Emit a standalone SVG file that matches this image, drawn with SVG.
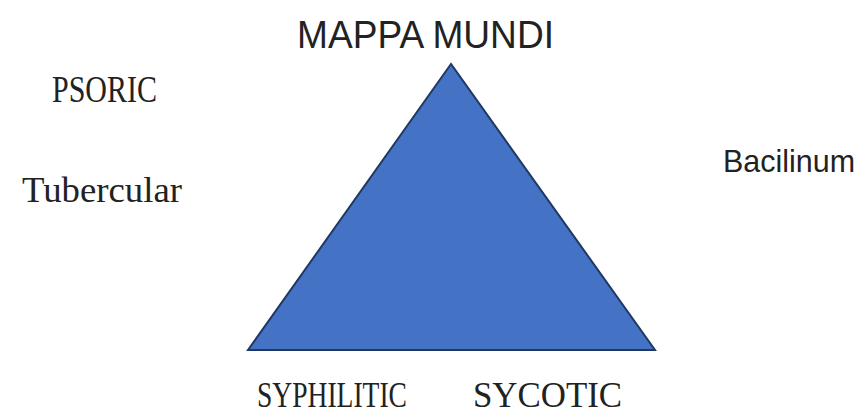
<svg xmlns="http://www.w3.org/2000/svg" width="861" height="415" viewBox="0 0 861 415">
<style>
.sans{font-family:"Liberation Sans",Arial,sans-serif;fill:#222;}
.serif{font-family:"Liberation Serif","Times New Roman",serif;fill:#222;}
</style>
<rect width="861" height="415" fill="#fff"/>
<g id="triangle">
<polygon points="451,64 248,350 655,350" fill="#4472C4" stroke="#203864" stroke-width="2" stroke-linejoin="miter"/>
</g>
<g id="title"><text class="sans" x="297" y="48" font-size="39" textLength="257" lengthAdjust="spacingAndGlyphs">MAPPA MUNDI</text></g>
<g id="psoric"><text class="serif" x="52" y="102" font-size="38" textLength="105" lengthAdjust="spacingAndGlyphs">PSORIC</text></g>
<g id="tubercular"><text class="serif" x="22" y="202" font-size="36" textLength="160" lengthAdjust="spacingAndGlyphs">Tubercular</text></g>
<g id="bacilinum"><text class="sans" x="723" y="172" font-size="32" textLength="132" lengthAdjust="spacingAndGlyphs">Bacilinum</text></g>
<g id="syphilitic"><text class="serif" x="257" y="407" font-size="36" textLength="150" lengthAdjust="spacingAndGlyphs">SYPHILITIC</text></g>
<g id="sycotic"><text class="serif" x="473" y="407" font-size="36" textLength="149" lengthAdjust="spacingAndGlyphs">SYCOTIC</text></g>
<g id="connectors"></g>
</svg>
